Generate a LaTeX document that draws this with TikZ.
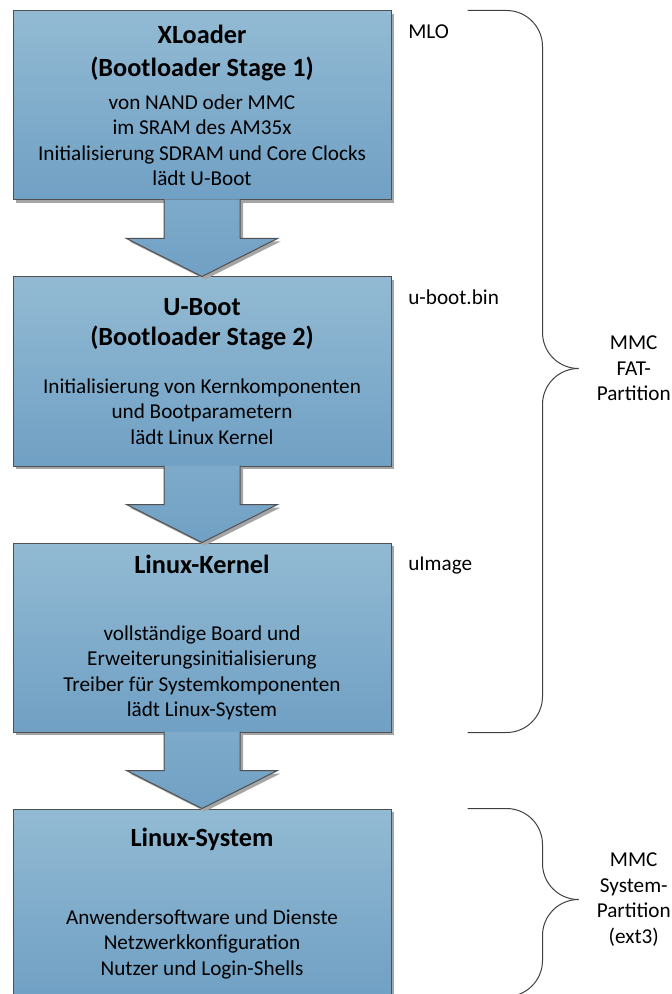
\documentclass[tikz,border=0pt]{standalone}
\usepackage{fontspec}
\setmainfont{Carlito}
\usepackage{tikz}
\usetikzlibrary{positioning, calc, shadows}
\definecolor{boxtop}{RGB}{146,186,211}
\definecolor{boxbottom}{RGB}{112,160,196}
\definecolor{boxline}{RGB}{80,80,80}
\definecolor{shadowgray}{RGB}{165,165,165}
\newcommand{\stagetitle}{\fontsize{19.7}{22}\selectfont\bfseries}

\begin{document}
\begin{tikzpicture}[
  x=0.75pt, y=-0.75pt,
  stage/.style={
    rectangle, minimum width=283.5pt, minimum height=141.75pt,
    top color=boxtop, bottom color=boxbottom, draw=boxline, line width=0.75pt,
    drop shadow={shadow xshift=2.25pt, shadow yshift=-2.25pt, fill=shadowgray, opacity=1},
    align=center, inner sep=0pt, font=\fontsize{15.9}{19.1}\selectfont
  },
  flowarrow/.style={
    top color=boxtop!40!boxbottom, bottom color=boxbottom,
    draw=boxline, line width=0.75pt, line join=miter,
    drop shadow={shadow xshift=2.25pt, shadow yshift=-2.25pt, fill=shadowgray, opacity=1}
  },
  filelabel/.style={anchor=base west, inner sep=0pt, font=\fontsize{15.9}{19.1}\selectfont},
  partlabel/.style={align=center, inner sep=0pt, font=\fontsize{15.9}{19.1}\selectfont},
  bracket/.style={draw=black!75, line width=0.75pt, rounded corners=27pt}
]
  \useasboundingbox (0,0) rectangle (671,994);

  % Boot stages
  \node[stage] (xl) at (202,105.5)
    {{\stagetitle XLoader}\\[5.9pt]{\stagetitle (Bootloader Stage 1)}\\[5.2pt]
     von NAND oder MMC\\im SRAM des AM35x\\Initialisierung SDRAM und Core Clocks\\lädt U-Boot};
  \node[stage, below=57pt of xl] (uboot)
    {{\stagetitle U-Boot}\\[3.4pt]{\stagetitle (Bootloader Stage 2)}\\[16.9pt]
     Initialisierung von Kernkomponenten\\und Bootparametern\\lädt Linux Kernel};
  \node[stage, below=57pt of uboot] (kern)
    {{\stagetitle Linux-Kernel}\\[30.9pt]
     vollständige Board und\\Erweiterungsinitialisierung\\Treiber für Systemkomponenten\\lädt Linux-System};
  \node[stage, below=57pt of kern] (sys)
    {{\stagetitle Linux-System}\\[39.4pt]
     Anwendersoftware und Dienste\\Netzwerkkonfiguration\\Nutzer und Login-Shells};

  % Block arrows between the stages
  \draw[flowarrow] ($(xl.south)+(-38,-1)$) -- ++(0,39) -- ++(-37.5,0) -- (uboot.north)
        -- ++(75.5,-38) -- ++(-37.5,0) -- ++(0,-39);
  \draw[flowarrow] ($(uboot.south)+(-38,-1)$) -- ++(0,39) -- ++(-37.5,0) -- (kern.north)
        -- ++(75.5,-38) -- ++(-37.5,0) -- ++(0,-39);
  \draw[flowarrow] ($(kern.south)+(-38,-1)$) -- ++(0,39) -- ++(-37.5,0) -- (sys.north)
        -- ++(75.5,-38) -- ++(-37.5,0) -- ++(0,-39);

  % Image files
  \node[filelabel] (mlo)   at ($(xl.north east)+(16.5,28)$)    {MLO};
  \node[filelabel] (ubin)  at ($(uboot.north east)+(16.5,28)$) {u-boot.bin};
  \node[filelabel] (uimg)  at ($(kern.north east)+(16.5,28)$)  {uImage};

  % Partitions
  \coordinate (fattop) at ($(xl.north east)+(76,0)$);
  \coordinate (fatbot) at ($(kern.south east)+(76,0)$);
  \coordinate (fatmid) at ($(fattop)!0.5!(fatbot)+(75,-3)$);
  \coordinate (fattip) at ($(fatmid)+(36,0)$);
  \draw[bracket] (fattop) -| (fatmid) -- (fattip);
  \draw[bracket] (fatbot) -| (fatmid) -- (fattip);
  \node[partlabel, right=13.5pt of fattip] (fatlabel) {MMC\\FAT-\\Partition};

  \coordinate (systop) at ($(sys.north east)+(76,0)$);
  \coordinate (sysbot) at ($(sys.south east)+(76,-2)$);
  \coordinate (sysmid) at ($(systop)!0.5!(sysbot)+(75,-3)$);
  \coordinate (systip) at ($(sysmid)+(36,0)$);
  \draw[bracket] (systop) -| (sysmid) -- (systip);
  \draw[bracket] (sysbot) -| (sysmid) -- (systip);
  \node[partlabel, right=13.5pt of systip] (syslabel) {MMC\\System-\\Partition\\(ext3)};
\end{tikzpicture}
\end{document}
